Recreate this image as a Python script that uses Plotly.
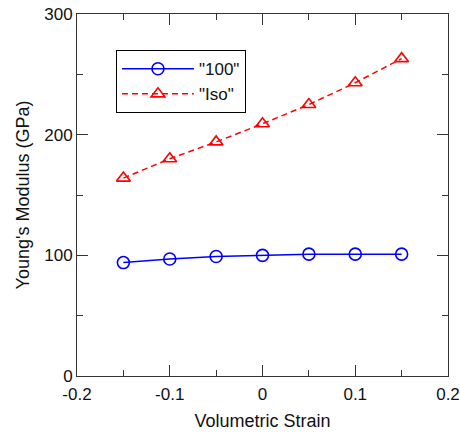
import plotly.graph_objects as go

strain = [-0.15, -0.1, -0.05, 0.0, 0.05, 0.1, 0.15]
e100 = [94, 97, 99, 100, 101, 101, 101]
eiso = [164, 180, 194, 209, 225, 243, 263]

fig = go.Figure()
fig.add_trace(go.Scatter(x=strain, y=e100, name='"100"', mode='lines+markers',
                         line=dict(color='#0000ff', width=1.5),
                         marker=dict(symbol='circle-open', size=12, color='#0000ff', line=dict(width=1.6))))
fig.add_trace(go.Scatter(x=strain, y=eiso, name='"Iso"', mode='lines+markers',
                         line=dict(color='#ff0000', width=1.5, dash='6px,4px'),
                         marker=dict(symbol='triangle-up-open', size=12, color='#ff0000', line=dict(width=1.6))))

axis_common = dict(showline=True, linecolor='#333', linewidth=1, mirror='allticks',
                   ticks='inside', ticklen=11, tickcolor='#333', showgrid=False, zeroline=False,
                   automargin=False,
                   minor=dict(ticks='inside', ticklen=6, tickcolor='#333'),
                   tickfont=dict(size=17, color='#111'))
fig.update_xaxes(range=[-0.2, 0.2], tickvals=[-0.2, -0.1, 0, 0.1, 0.2],
                 ticktext=['-0.2', '-0.1', '0', '0.1', '0.2'],
                 minor_tickvals=[-0.15, -0.05, 0.05, 0.15],
                 ticklabelstandoff=3,
                 title=dict(text='Volumetric Strain', font=dict(size=18, color='#111'), standoff=10),
                 **axis_common)
fig.update_yaxes(range=[0, 300], tickvals=[0, 100, 200, 300],
                 minor_tickvals=[50, 150, 250],
                 title=dict(text="Young's Modulus (GPa)", font=dict(size=18, color='#111'), standoff=9),
                 **axis_common)

fig.update_layout(width=460, height=434, margin=dict(l=77, r=12, t=14, b=58),
                  paper_bgcolor='white', plot_bgcolor='white',
                  font=dict(family='Liberation Sans, Arial, sans-serif', size=17, color='#111'),
                  legend=dict(x=0.105, y=0.9, xanchor='left', yanchor='top',
                              bordercolor='black', borderwidth=1, bgcolor='white',
                              font=dict(size=17), itemwidth=72, tracegroupgap=0),
                  showlegend=True)

fig.write_html("out.html", post_script="document.body.style.margin='0';",
               config={'displayModeBar': False})
